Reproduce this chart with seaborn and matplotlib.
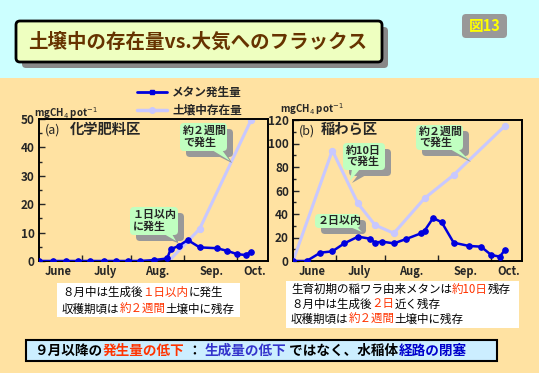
import matplotlib
matplotlib.use("Agg")
import matplotlib.pyplot as plt
from matplotlib.patches import FancyBboxPatch, Polygon, Rectangle
from matplotlib.lines import Line2D
import seaborn as sns

# ---- data (days counted from June 1) ----
months = ["June", "July", "Aug.", "Sep.", "Oct."]
month_label_pos = [16, 44, 74, 106, 131]
month_edges = [30, 59, 90, 121]

chem_days = [5, 13, 21, 28, 35, 43, 50, 57, 64, 72, 80, 82, 87, 92, 99, 109, 115, 121, 126, 129]
chem_flux = [0, 0, 0, 0, 0, 0, 0, 0, 0, 0.3, 0.9, 4.1, 5.4, 7.4, 4.8, 4.5, 3.6, 2.4, 2.1, 3.3]
chem_soil_days = [81, 99, 129]
chem_soil = [0, 11.3, 49.5]

straw_days = [5, 13, 21, 28, 35, 43, 50, 53, 57, 64, 71, 80, 82, 87, 92, 99, 108, 115, 121, 126, 129]
straw_flux = [0, 0, 7.1, 8.2, 15, 20.7, 19, 15.6, 16.5, 15, 18.6, 23.6, 25.8, 36.6, 33, 15.6,
              12.8, 12.2, 5.1, 3.7, 9.4]
straw_soil_days = [5, 28, 43, 53, 64, 82, 99, 129]
straw_soil = [0, 94, 49, 30.6, 23.6, 53.4, 73.2, 115]

W, H = 539, 373
BLUE = "#0000DD"
LAV = "#C8C8FF"
PEACH = "#FFE2A2"
RED = "#FF3300"

sns.set_theme(style="ticks")
plt.rcParams["font.family"] = ["Noto Sans CJK JP", "DejaVu Sans"]
plt.rcParams["mathtext.fontset"] = "dejavusans"

fig = plt.figure(figsize=(W / 100, H / 100), dpi=100)
fig.patch.set_facecolor(PEACH)


def fx(x):
    return x / W


def fy(y):
    return 1 - y / H


def rect(x0, y0, x1, y1, **kw):
    p = Rectangle((fx(x0), fy(y1)), fx(x1) - fx(x0), fy(y0) - fy(y1),
                  transform=fig.transFigure, **kw)
    fig.add_artist(p)


def rbox(x0, y0, x1, y1, pad=3, **kw):
    p = FancyBboxPatch((x0, H - y1), x1 - x0, y1 - y0,
                       boxstyle=f"round,pad=0,rounding_size={pad}",
                       transform=None, **kw)
    fig.add_artist(p)


def poly(points, **kw):
    p = Polygon([(x, H - y) for x, y in points], closed=True, transform=None, **kw)
    fig.add_artist(p)


# top cyan band
rect(0, 0, W, 78, facecolor="#CCFFFF", edgecolor="none", zorder=0)

# title box with shadow
rbox(22, 27, 388, 68, pad=4, facecolor="#888888", edgecolor="none", zorder=1)
rbox(16, 21, 382, 62, pad=4, facecolor="#EEFFC0", edgecolor="black", linewidth=2, zorder=2)
fig.text(fx(28), fy(42), "土壌中の存在量vs.大気へのフラックス", fontsize=14.0,
         fontweight="bold", color="#663300", va="center", ha="left", zorder=3)

# figure badge
rbox(462, 14, 507, 38, pad=4, facecolor="#999999", edgecolor="none", zorder=1)
fig.text(fx(484.5), fy(26), "図13", fontsize=10.5, fontweight="bold", color="#FFFF00",
         ha="center", va="center", zorder=3)

# legend
fig.add_artist(Line2D([fx(137), fx(167)], [fy(92), fy(92)], color=BLUE, lw=2))
fig.add_artist(Line2D([fx(152)], [fy(92)], color=BLUE, marker="s", markersize=3.5))
fig.text(fx(172), fy(92), "メタン発生量", fontsize=8.4, fontweight="bold", va="center")
fig.add_artist(Line2D([fx(137), fx(167)], [fy(110), fy(110)], color=LAV, lw=2.5))
fig.add_artist(Line2D([fx(152)], [fy(110)], color=LAV, marker="o", markersize=4))
fig.text(fx(172), fy(110), "土壌中存在量", fontsize=8.4, fontweight="bold", va="center")


def panel(x0, top, ymax, ystep, days, flux, soil_days, soil, label_a, label_b, bx):
    ax = fig.add_axes([fx(x0), fy(261), 229 / W, (261 - top) / H])
    ax.set_facecolor("none")
    sns.lineplot(x=soil_days, y=soil, ax=ax, color=LAV, linewidth=2.2, marker="o",
                 markersize=4.5, markeredgecolor=LAV, zorder=2)
    sns.lineplot(x=days, y=flux, ax=ax, color=BLUE, linewidth=1.8, marker="o",
                 markersize=4, markeredgecolor=BLUE, zorder=3)
    ax.set_xlim(5, 139)
    ax.set_ylim(0, ymax)
    ax.set_yticks(range(0, ymax + 1, ystep))
    ax.set_yticks(range(ystep // 2, ymax, ystep), minor=True)
    ax.set_xticks(month_edges)
    ax.set_xticklabels([])
    ax.set_xticks(month_label_pos, minor=True)
    ax.set_xticklabels(months, minor=True)
    ax.tick_params(axis="x", which="major", direction="in", length=4, width=1)
    ax.tick_params(axis="x", which="minor", length=0, pad=3, labelsize=8)
    ax.tick_params(axis="y", which="major", direction="in", length=4, width=1, pad=3,
                   labelsize=8.5)
    ax.tick_params(axis="y", which="minor", direction="in", length=2.5, width=1)
    for t in ax.get_xticklabels(minor=True) + ax.get_yticklabels():
        t.set_fontweight("bold")
    for s in ax.spines.values():
        s.set_visible(True)
        s.set_linewidth(1.4)
        s.set_color("black")
    ax.text(0.025, 0.92, label_a, transform=ax.transAxes, fontsize=9, va="center",
            ha="left")
    fig.text(fx(bx), fy(130), label_b, fontsize=10.3, fontweight="bold", va="center",
             ha="left")
    return ax


panel(39, 119, 50, 10, chem_days, chem_flux, chem_soil_days, chem_soil, "(a)", "化学肥料区", 70)
panel(293, 120, 120, 20, straw_days, straw_flux, straw_soil_days, straw_soil, "(b)", "稲わら区", 321)

fig.text(fx(34), fy(113), r"mgCH$_4$ pot$^{-1}$", fontsize=7, fontweight="bold",
         ha="left", va="center")
fig.text(fx(280), fy(109), r"mgCH$_4$ pot$^{-1}$", fontsize=7, fontweight="bold",
         ha="left", va="center")


def bubble(x0, y0, x1, y1, text, base, tip):
    sh = 6
    rbox(x0 + sh, y0 + sh, x1 + sh, y1 + sh, pad=4, facecolor="#999999",
         edgecolor="none", zorder=5)
    poly([(base[0][0] + sh, base[0][1] + sh), (base[1][0] + sh, base[1][1] + sh),
          (tip[0] + 2, tip[1] + 2)], facecolor="#999999", edgecolor="none", zorder=5)
    rbox(x0, y0, x1, y1, pad=4, facecolor="#C0FFC0", edgecolor="none", zorder=6)
    poly([base[0], base[1], tip], facecolor="#C0FFC0", edgecolor="none", zorder=6)
    fig.text(fx(x0 + 3), fy((y0 + y1) / 2), text, fontsize=7.9, fontweight="bold",
             ha="left", va="center", linespacing=1.1, zorder=7)


bubble(180, 123, 227, 151, "約２週間\nで発生", [(212, 150), (222, 150)], (230, 161))
bubble(130, 207, 178, 235, "１日以内\nに発生", [(164, 234), (172, 234)], (176, 241))
bubble(343, 143, 385, 170, "約10日\nで発生", [(352, 169), (360, 169)], (350, 181))
bubble(416, 125, 463, 150, "約２週間\nで発生", [(450, 149), (458, 149)], (469, 160))
bubble(315, 214, 360, 228, "２日以内", [(350, 227), (357, 227)], (362, 232))

renderer = fig.canvas.get_renderer()


def colored_line(x, y, parts, size, weight="normal"):
    for s, c in parts:
        t = fig.text(fx(x), fy(y), s, color=c, fontsize=size, fontweight=weight,
                     ha="left", va="center", zorder=9)
        x += t.get_window_extent(renderer).width


# note boxes
rect(57, 283, 240, 317, facecolor="white", edgecolor="none", zorder=8)
colored_line(62, 292, [("８月中は生成後", "black"), ("１日以内", RED), ("に発生", "black")], 8.3)
colored_line(62, 309, [("収穫期頃は", "black"), ("約２週間", RED), ("土壌中に残存", "black")], 8.3)

rect(286, 281, 519, 328, facecolor="white", edgecolor="none", zorder=8)
colored_line(291, 289, [("生育初期の稲ワラ由来メタンは", "black"), ("約10日", RED),
                        ("残存", "black")], 8.3)
colored_line(291, 304, [("８月中は生成後", "black"), ("２日", RED), ("近く残存", "black")], 8.3)
colored_line(291, 319, [("収穫期頃は", "black"), ("約２週間", RED),
                        ("土壌中に残存", "black")], 8.3)

# bottom banner
rect(26, 340, 497, 361, facecolor="#CCEEFF", edgecolor="black", linewidth=1.5, zorder=8)
colored_line(35, 351, [("９月以降の", "black"), ("発生量の低下", RED), (" ： ", "black"),
                       ("生成量の低下", "#3333CC"), (" ではなく、水稲体", "black"),
                       ("経路の閉塞", "#0000CC")], 9.8, weight="bold")

fig.savefig("out.png", dpi=100, facecolor=PEACH)
